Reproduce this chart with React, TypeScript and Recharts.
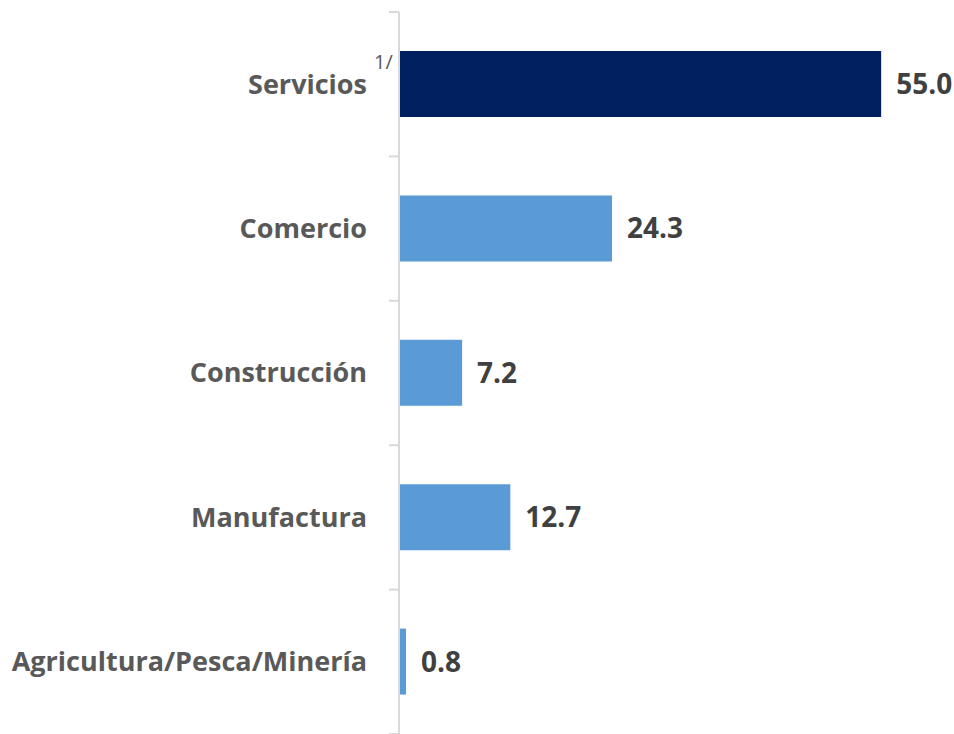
import {Bar, BarChart, Cell, LabelList, XAxis, YAxis} from 'recharts';

const sectores = ['Servicios', 'Comercio', 'Construcción', 'Manufactura', 'Agricultura/Pesca/Minería'];
const participacion = [55.0, 24.3, 7.2, 12.7, 0.8];
const notas = ['1/', '', '', '', ''];

const data = sectores.map((sector, i) => ({
    sector,
    valor: participacion[i],
    nota: notas[i]
}));

const WIDTH = 954;
const HEIGHT = 734;
const TOP = 12;
const AXIS_W = 399;
const BAND = (HEIGHT - TOP) / sectores.length;
const FONT = '"Open Sans", sans-serif';

const SectorTick = ({y, payload, index}: any) => {
    const nota = notas[index];
    return (
        <g>
            <line x1={AXIS_W - 10} x2={AXIS_W} y1={y - BAND / 2} y2={y - BAND / 2} stroke="#d9d9d9" strokeWidth={2}/>
            {index === sectores.length - 1 && (
                <line x1={AXIS_W - 10} x2={AXIS_W} y1={y + BAND / 2} y2={y + BAND / 2} stroke="#d9d9d9" strokeWidth={2}/>
            )}
            <text x={AXIS_W - 32} y={y} dy="0.35em" textAnchor="end" fill="#595959"
                  fontFamily={FONT} fontWeight={700} fontSize={27}>
                {payload.value}
            </text>
            {nota && (
                <text x={AXIS_W - 25} y={y - 15} textAnchor="start" fill="#595959"
                      fontFamily={FONT} fontSize={20}>
                    {nota}
                </text>
            )}
        </g>
    );
};

const App = () => {
    return (
        <div style={{position: 'absolute', left: 0, top: 0, background: '#fff'}}>
            <BarChart
                width={WIDTH}
                height={HEIGHT}
                data={data}
                layout="vertical"
                margin={{top: TOP, right: 29, left: 0, bottom: 0}}
                barCategoryGap="27%"
            >
                <XAxis type="number" domain={[0, 60]} hide/>
                <YAxis
                    type="category"
                    dataKey="sector"
                    width={AXIS_W}
                    axisLine={{stroke: '#d9d9d9', strokeWidth: 2}}
                    tickLine={false}
                    tick={<SectorTick/>}
                    interval={0}
                />
                <Bar dataKey="valor" isAnimationActive={false}>
                    {data.map((d, i) => (
                        <Cell key={d.sector} fill={i === 0 ? '#002060' : '#5b9bd5'}/>
                    ))}
                    <LabelList
                        dataKey="valor"
                        position="right"
                        offset={15}
                        formatter={(v: any) => Number(v).toFixed(1)}
                        fill="#404040"
                        fontFamily={FONT}
                        fontWeight={700}
                        fontSize={28}
                    />
                </Bar>
            </BarChart>
        </div>
    );
};

export default App;
